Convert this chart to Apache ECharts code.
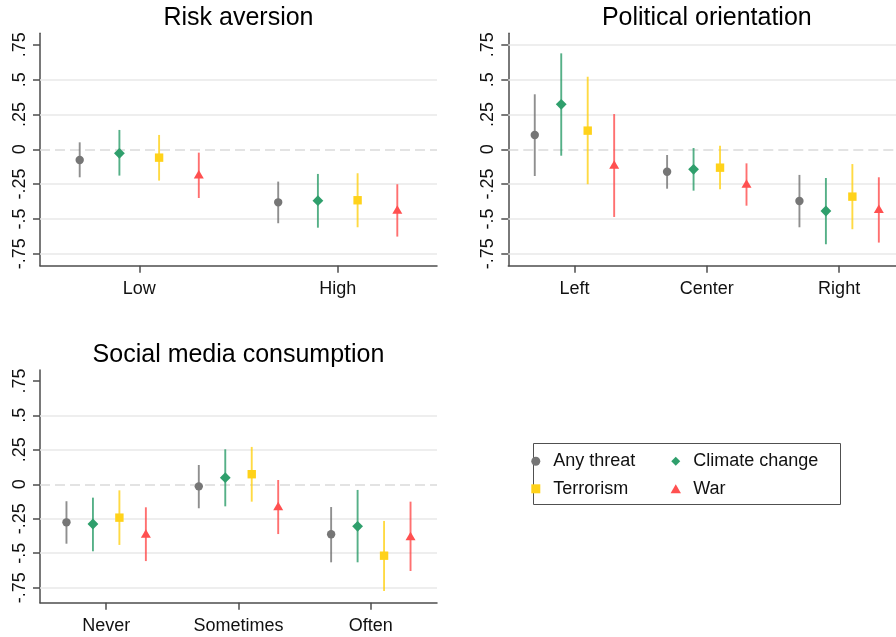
<!DOCTYPE html>
<html><head><meta charset="utf-8">
<script src="https://cdn.jsdelivr.net/npm/echarts@6/dist/echarts.min.js"></script>
<style>html,body{margin:0;padding:0;background:#fff}#c{width:896px;height:637px}</style>
</head><body><div id="c"></div>
<script>
const threats = ['Any threat','Climate change','Terrorism','War'];

// each entry: [estimate, lower CI, upper CI]
const riskCats = ['Low','High'];
const riskAny     = [[-0.077,-0.201, 0.050],[-0.381,-0.531,-0.232]];
const riskClimate = [[-0.029,-0.189, 0.139],[-0.369,-0.563,-0.177]];
const riskTerror  = [[-0.060,-0.225, 0.103],[-0.366,-0.560,-0.172]];
const riskWar     = [[-0.184,-0.350,-0.024],[-0.436,-0.627,-0.251]];

const polCats = ['Left','Center','Right'];
const polAny     = [[ 0.103,-0.192, 0.395],[-0.161,-0.283,-0.041],[-0.371,-0.560,-0.184]];
const polClimate = [[ 0.323,-0.046, 0.689],[-0.144,-0.297, 0.009],[-0.443,-0.682,-0.206]];
const polTerror  = [[ 0.134,-0.251, 0.521],[-0.132,-0.287, 0.026],[-0.340,-0.574,-0.106]];
const polWar     = [[-0.113,-0.486, 0.253],[-0.249,-0.405,-0.101],[-0.431,-0.670,-0.201]];

const smCats = ['Never','Sometimes','Often'];
const smAny     = [[-0.276,-0.431,-0.123],[-0.015,-0.174, 0.140],[-0.363,-0.566,-0.165]];
const smClimate = [[-0.288,-0.486,-0.097],[ 0.048,-0.160, 0.254],[-0.305,-0.566,-0.041]];
const smTerror  = [[-0.242,-0.440,-0.044],[ 0.073,-0.126, 0.271],[-0.518,-0.774,-0.266]];
const smWar     = [[-0.361,-0.557,-0.167],[-0.162,-0.361, 0.031],[-0.380,-0.629,-0.126]];

const yTickValues = [-0.75,-0.5,-0.25,0,0.25,0.5,0.75];
const yTickLabels = ['-.75','-.5','-.25','0','.25','.5','.75'];

const colors = ['#767676','#2f9f6c','#ffd21a','#ff5050'];
const shapes = ['circle','diamond','square','triangle'];
const offsets = [-0.3,-0.1,0.1,0.3];
const FONT = 'Liberation Sans, Arial, Helvetica, sans-serif';

const panels = [
  {title:'Risk aversion', cats:riskCats, sets:[riskAny,riskClimate,riskTerror,riskWar],
   grid:{left:40,top:33.3,width:397,height:232.4}, yMin:-0.836, yMax:0.833, titleLeft:238.5, titleTop:6,
   gridVals:[-0.75,-0.5,-0.25,0.25,0.5]},
  {title:'Political orientation', cats:polCats, sets:[polAny,polClimate,polTerror,polWar],
   grid:{left:508.3,top:33.3,width:397,height:232.4}, yMin:-0.836, yMax:0.833, titleLeft:706.8, titleTop:6,
   gridVals:[-0.75,-0.5,-0.25,0.25,0.5,0.75]},
  {title:'Social media consumption', cats:smCats, sets:[smAny,smClimate,smTerror,smWar],
   grid:{left:40,top:370,width:397,height:232.7}, yMin:-0.859, yMax:0.829, titleLeft:238.5, titleTop:342.5,
   gridVals:[-0.75,-0.5,-0.25,0.25,0.5]}
];

function marker(shape, x, y, color){
  if (shape==='circle') return {type:'circle', shape:{cx:x,cy:y,r:4.2}, style:{fill:color}};
  if (shape==='diamond') return {type:'polygon', shape:{points:[[x,y-5.4],[x+5.4,y],[x,y+5.4],[x-5.4,y]]}, style:{fill:color}};
  if (shape==='square') return {type:'rect', shape:{x:x-4.2,y:y-4.2,width:8.4,height:8.4}, style:{fill:color}};
  return {type:'polygon', shape:{points:[[x,y-4.8],[x+5,y+3.7],[x-5,y+3.7]]}, style:{fill:color}};
}
function makeRender(k){
  return function(params, api){
    const c = api.value(0);
    const p = api.coord([c, api.value(1)]);
    const lo = api.coord([c, api.value(2)]);
    const hi = api.coord([c, api.value(3)]);
    const band = api.size([1,0])[0];
    const x = p[0] + offsets[k]*band;
    return {type:'group', children:[
      {type:'line', shape:{x1:x,y1:hi[1],x2:x,y2:lo[1]}, style:{stroke:colors[k], lineWidth:1.9, opacity:0.82}},
      marker(shapes[k], x, p[1], colors[k])
    ]};
  };
}

const option = {
  animation:false,
  textStyle:{fontFamily:FONT},
  title:[], grid:[], xAxis:[], yAxis:[], series:[],
  legend:[],
  graphic:[{type:'rect', silent:true, shape:{x:533.5,y:443.5,width:307,height:61},
            style:{fill:null, stroke:'#505050', lineWidth:1}}]
};

panels.forEach((pn, gi) => {
  option.title.push({text:pn.title, left:pn.titleLeft, top:pn.titleTop, textAlign:'center', padding:0,
    textStyle:{fontSize:25, lineHeight:25, fontWeight:'normal', color:'#000', fontFamily:FONT}});
  option.grid.push(Object.assign({outerBoundsMode:'none', containLabel:false}, pn.grid));
  option.xAxis.push({type:'category', gridIndex:gi, data:pn.cats, boundaryGap:true,
    axisLine:{show:true, onZero:false, lineStyle:{color:'#4d4d4d', width:1.5}},
    axisTick:{show:true, alignWithLabel:true, length:7, lineStyle:{color:'#4d4d4d', width:1.5}},
    axisLabel:{fontSize:18, lineHeight:18, margin:14, color:'#111', fontFamily:FONT},
    splitLine:{show:false}});
  option.yAxis.push({type:'value', gridIndex:gi, min:pn.yMin, max:pn.yMax,
    axisLine:{show:true, onZero:false, lineStyle:{color:'#4d4d4d', width:1.5}},
    axisTick:{show:true, length:7, customValues:yTickValues, lineStyle:{color:'#4d4d4d', width:1.5}},
    axisLabel:{rotate:90, fontSize:18, lineHeight:18, margin:11, color:'#111', fontFamily:FONT,
      customValues:yTickValues,
      formatter:(v)=>{const i=yTickValues.findIndex(t=>Math.abs(t-v)<1e-9); return i>=0?yTickLabels[i]:'';}},
    splitLine:{show:false}});
  const mlData = pn.gridVals.map(v => ({yAxis:v, lineStyle:{color:'#e9e9e9', width:1.5, type:'solid'}}));
  mlData.push({yAxis:0, lineStyle:{color:'#dadada', width:1.5, type:[10,5]}});
  option.series.push({type:'line', name:'_grid'+gi, xAxisIndex:gi, yAxisIndex:gi, data:[], z:1, silent:true,
    markLine:{silent:true, z:1, symbol:['none','none'], label:{show:false}, emphasis:{disabled:true}, animation:false, data:mlData}});
  pn.sets.forEach((arr, k) => {
    option.series.push({type:'custom', name:threats[k], xAxisIndex:gi, yAxisIndex:gi, z:10,
      itemStyle:{color:colors[k]},
      encode:{x:0, y:[1,2,3]},
      data: arr.map((d, ci) => [ci, d[0], d[1], d[2]]),
      renderItem: makeRender(k)});
  });
});

const ICON = {
  circle:'path://M0,5A5,5 0 1,1 10,5A5,5 0 1,1 0,5Z',
  diamond:'path://M5,0L10,5L5,10L0,5Z',
  square:'path://M0,0L10,0L10,10L0,10Z',
  triangle:'path://M5,0L10,8.7L0,8.7Z'
};
const legendBase = {orient:'vertical', top:452.2, padding:0, itemWidth:25, itemHeight:9, itemGap:9.6,
  selectedMode:false, textStyle:{fontSize:18, lineHeight:18, color:'#111', fontFamily:FONT}};
option.legend.push(Object.assign({}, legendBase, {left:531.3,
  data:[{name:threats[0], icon:ICON.circle},{name:threats[2], icon:ICON.square}]}));
option.legend.push(Object.assign({}, legendBase, {left:670.6,
  data:[{name:threats[1], icon:ICON.diamond},{name:threats[3], icon:ICON.triangle}]}));

const chart = echarts.init(document.getElementById('c'), null, {renderer:'canvas'});
chart.setOption(option);
</script>
</body></html>
